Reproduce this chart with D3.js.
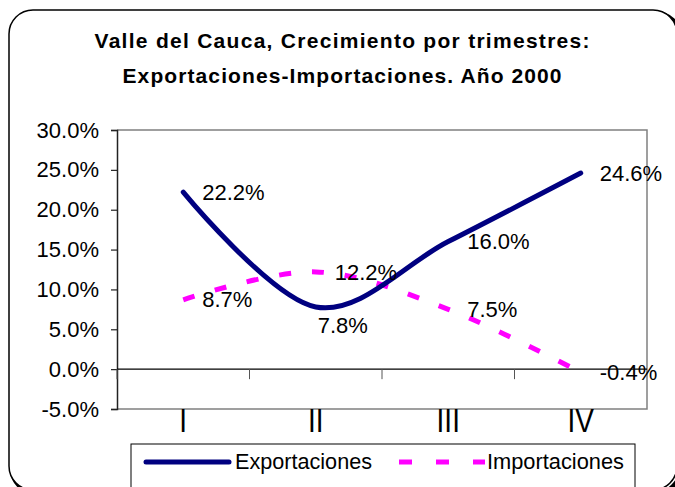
<!DOCTYPE html>
<html>
<head>
<meta charset="utf-8">
<script src="https://cdn.jsdelivr.net/npm/d3@7"></script>
<style>
    body { margin: 0; background: #ffffff; }
    svg { display: block; font-family: "Liberation Sans", Arial, sans-serif; }
    .frame { fill: #ffffff; stroke: #000000; stroke-width: 1.5; }
    .shadow { fill: none; stroke: #000000; stroke-width: 4; }
    .tickLabel { font-size: 22px; fill: #000000; }
    .dataLabel { font-size: 22px; fill: #000000; }
    .catLabel { font-size: 28px; fill: #000000; }
    .title { font-size: 21px; font-weight: bold; fill: #000000; }
    .legendText { font-size: 21.5px; fill: #000000; }
</style>
</head>
<body>
<svg id="chart" width="675" height="487"></svg>
<script>
// chart values
var categories = ["I", "II", "III", "IV"];
var exportaciones = [22.2, 7.8, 16.0, 24.6];
var importaciones = [8.7, 12.2, 7.5, -0.4];
var yTicks = [-5, 0, 5, 10, 15, 20, 25, 30];
var titleLines = ["Valle del Cauca, Crecimiento por trimestres:", "Exportaciones-Importaciones. Año 2000"];

// plain hyphen for negatives, like the original
var pct = function(d) { return d3.format(".1f")(d).replace("\u2212", "-") + "%"; };

/** Class drawing the line chart. */
class GrowthChart
{
    constructor()
    {
        this.svg = d3.select("#chart");
        this.x = d3.scaleBand().domain(categories).range([117, 647]);
        this.y = d3.scaleLinear().domain([-5, 30]).range([409, 130]);
        this.series = [
            { name: "Exportaciones", values: exportaciones, color: "#000080", dash: null },
            { name: "Importaciones", values: importaciones, color: "#FF00FF", dash: "12,21" }
        ];
    }

    drawFrame()
    {
        var svg = this.svg;

        svg.append("rect")
        .attr("class", "shadow")
        .attr("x", 12).attr("y", 13)
        .attr("width", 668).attr("height", 480)
        .attr("rx", 24);

        svg.append("rect")
        .attr("class", "frame")
        .attr("x", 9).attr("y", 10)
        .attr("width", 668).attr("height", 480)
        .attr("rx", 24);

        svg.selectAll(".title")
        .data(titleLines)
        .enter()
        .append("text")
        .attr("class", "title")
        .attr("x", 342)
        .attr("y", function(d, i) { return i == 0 ? 48 : 83; })
        .attr("text-anchor", "middle")
        .attr("textLength", function(d, i) { return i == 0 ? 495 : 439; })
        .attr("lengthAdjust", "spacing")
        .text(function(d) { return d; });
    }

    drawAxes()
    {
        var svg = this.svg, x = this.x, y = this.y;
        var left = x.range()[0], right = x.range()[1];

        // plot area border
        svg.append("path")
        .attr("d", "M" + left + "," + y(30) + "H" + right + "V" + y(-5) + "H" + left)
        .attr("fill", "none")
        .attr("stroke", "#808080")
        .attr("stroke-width", 1.5);

        // value axis
        var yAxis = d3.axisLeft(y)
            .tickValues(yTicks)
            .tickSize(6)
            .tickPadding(12)
            .tickFormat(pct);

        var g = svg.append("g")
        .attr("transform", "translate(" + left + ",0)")
        .call(yAxis);

        g.select(".domain").attr("stroke", "#222222").attr("stroke-width", 1.5);
        g.selectAll(".tick line").attr("stroke", "#222222").attr("stroke-width", 1.2);
        g.selectAll(".tick text")
        .attr("class", "tickLabel")
        .attr("font-size", null)
        .attr("font-family", null);

        // zero line with ticks between categories
        svg.append("line")
        .attr("x1", left).attr("x2", right)
        .attr("y1", y(0)).attr("y2", y(0))
        .attr("stroke", "#000000")
        .attr("stroke-width", 1.2);

        var bounds = categories.map(function(c) { return x(c); });
        svg.selectAll(".catTick")
        .data(bounds)
        .enter()
        .append("line")
        .attr("class", "catTick")
        .attr("x1", function(d) { return d; })
        .attr("x2", function(d) { return d; })
        .attr("y1", y(0))
        .attr("y2", y(0) + 10)
        .attr("stroke", "#555555")
        .attr("stroke-width", 1);

        // category labels, drawn a bit tall like the original
        svg.selectAll(".catLabel")
        .data(categories)
        .enter()
        .append("text")
        .attr("class", "catLabel")
        .attr("text-anchor", "middle")
        .attr("transform", function(d)
        {
            return "translate(" + (x(d) + x.bandwidth() / 2) + ",432) scale(1,1.18)";
        })
        .text(function(d) { return d; });
    }

    drawLines()
    {
        var svg = this.svg, x = this.x, y = this.y;
        var cx = function(i) { return x(categories[i]) + x.bandwidth() / 2; };

        var line = d3.line()
            .x(function(d, i) { return cx(i); })
            .y(function(d) { return y(d); })
            .curve(d3.curveCatmullRom.alpha(0));

        // importaciones underneath
        this.series.slice().reverse().forEach(function(s)
        {
            svg.append("path")
            .datum(s.values)
            .attr("d", line)
            .attr("fill", "none")
            .attr("stroke", s.color)
            .attr("stroke-width", 5)
            .attr("stroke-linecap", s.dash ? "butt" : "round")
            .attr("stroke-dasharray", s.dash);
        });

        // the 7.8% label sits below its point, all others to the right
        this.series.forEach(function(s)
        {
            svg.selectAll(null)
            .data(s.values)
            .enter()
            .append("text")
            .attr("class", "dataLabel")
            .attr("x", function(d, i) { return cx(i) + (s.name == "Exportaciones" && i == 1 ? 2 : 19); })
            .attr("y", function(d, i) { return y(d) + (s.name == "Exportaciones" && i == 1 ? 18 : 0); })
            .attr("dy", "0.35em")
            .text(pct);
        });
    }

    drawLegend()
    {
        var svg = this.svg;

        svg.append("rect")
        .attr("x", 131).attr("y", 444)
        .attr("width", 504).attr("height", 60)
        .attr("fill", "#ffffff")
        .attr("stroke", "#000000")
        .attr("stroke-width", 1);

        var items = [
            { s: this.series[0], x0: 146, x1: 229, tx: 235 },
            { s: this.series[1], x0: 399, x1: 485, tx: 487 }
        ];

        items.forEach(function(d)
        {
            svg.append("line")
            .attr("x1", d.x0).attr("x2", d.x1)
            .attr("y1", 462).attr("y2", 462)
            .attr("stroke", d.s.color)
            .attr("stroke-width", 5)
            .attr("stroke-linecap", d.s.dash ? "butt" : "round")
            .attr("stroke-dasharray", d.s.dash ? "13,24" : null);

            svg.append("text")
            .attr("class", "legendText")
            .attr("x", d.tx)
            .attr("y", 469)
            .attr("textLength", 137)
            .attr("lengthAdjust", "spacingAndGlyphs")
            .text(d.s.name);
        });
    }
}

var chart = new GrowthChart();
chart.drawFrame();
chart.drawAxes();
chart.drawLines();
chart.drawLegend();
</script>
</body>
</html>
